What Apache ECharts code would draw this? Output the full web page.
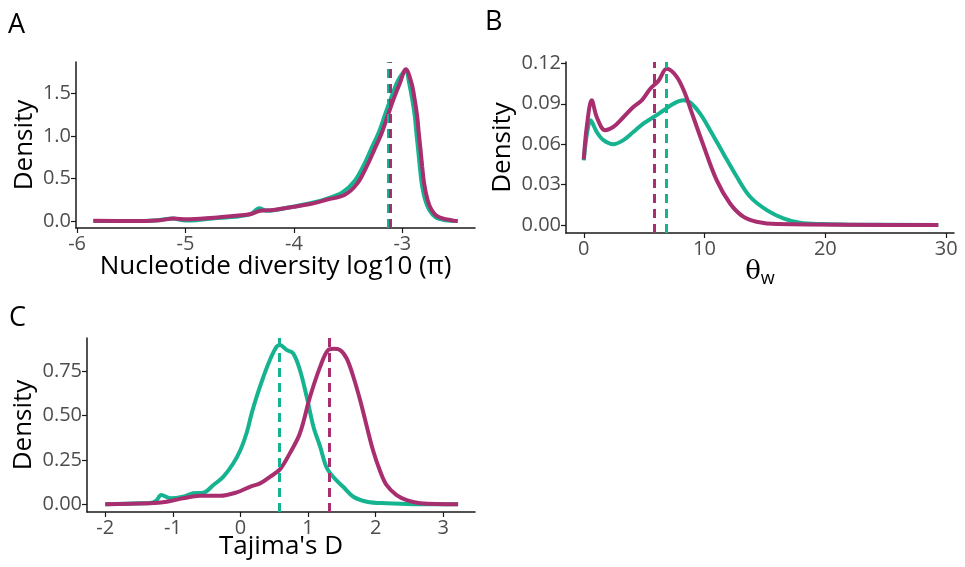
<!DOCTYPE html>
<html>
<head>
<meta charset="utf-8">
<script src="https://cdn.jsdelivr.net/npm/echarts@6/dist/echarts.min.js"></script>
<style>
  html, body { margin: 0; padding: 0; background: #fff; }
  #chart { width: 965px; height: 567px; }
</style>
</head>
<body>
<div id="chart"></div>
<script>
  // panel A: nucleotide diversity log10(pi)
  const piGreenX = [-5.85,-5.5,-5.25,-5.12,-5.0,-4.9,-4.75,-4.55,-4.4,-4.32,-4.25,-4.05,-3.85,-3.7,-3.55,-3.44,-3.355,-3.285,-3.215,-3.16,-3.107,-3.045,-2.99,-2.965,-2.937,-2.907,-2.885,-2.87,-2.854,-2.839,-2.821,-2.79,-2.752,-2.69,-2.6,-2.49];
  const piGreenY = [0,0,0.01,0.03,0.005,0.01,0.03,0.05,0.08,0.15,0.12,0.16,0.21,0.26,0.34,0.47,0.66,0.855,1.05,1.25,1.44,1.64,1.75,1.765,1.62,1.42,1.23,1.03,0.835,0.64,0.44,0.25,0.13,0.04,0.01,0];
  const piPinkX = [-5.85,-5.48,-5.235,-5.11,-4.99,-4.74,-4.56,-4.41,-4.31,-4.19,-4.04,-3.85,-3.7,-3.53,-3.417,-3.33,-3.26,-3.192,-3.137,-3.085,-3.023,-2.968,-2.915,-2.885,-2.863,-2.848,-2.832,-2.817,-2.799,-2.768,-2.73,-2.67,-2.53,-2.49];
  const piPinkY = [0.004,0,0.01,0.03,0.02,0.04,0.06,0.08,0.12,0.13,0.16,0.2,0.25,0.31,0.44,0.64,0.835,1.03,1.23,1.42,1.62,1.785,1.62,1.42,1.23,1.03,0.835,0.64,0.44,0.25,0.13,0.05,0.005,0];
  const piMeans = [-3.125, -3.11]; // green, pink
  const piXTicks = [-6, -5, -4, -3];
  const piYTicks = [0, 0.5, 1, 1.5];

  // panel B: theta_w
  const thGreenX = [0,0.58,1.08,1.63,2.45,3.28,4.1,4.93,5.76,6.59,7.42,8.25,8.8,9.63,10.46,11.56,12.67,13.77,15.15,16.52,17.9,19.8,22.0,29.35];
  const thGreenY = [0.048,0.0778,0.069,0.063,0.060,0.063,0.069,0.0753,0.080,0.085,0.090,0.0926,0.091,0.0827,0.0704,0.053,0.0358,0.021,0.0111,0.005,0.0017,0.0007,0.0003,0];
  const thPinkX = [0,0.25,0.66,1.08,1.76,2.45,3.28,4.1,4.8,5.49,6.18,6.87,7.7,8.39,8.8,9.85,11.0,12.11,13.2,14.3,15.98,29.35];
  const thPinkY = [0.0487,0.073,0.0926,0.080,0.0704,0.0728,0.080,0.0876,0.0926,0.101,0.107,0.116,0.110,0.0975,0.087,0.0605,0.0333,0.016,0.0062,0.0025,0.0007,0];
  const thMeans = [6.87, 5.82];
  const thXTicks = [0, 10, 20, 30];
  const thYTicks = [0, 0.03, 0.06, 0.09, 0.12];

  // panel C: Tajima's D
  const tdGreenX = [-2,-1.49,-1.34,-1.25,-1.17,-1.04,-0.85,-0.7,-0.55,-0.4,-0.255,-0.107,0,0.09,0.166,0.24,0.34,0.436,0.535,0.584,0.683,0.78,0.88,0.98,1.08,1.18,1.27,1.37,1.52,1.67,1.87,2.16,2.56,3.22];
  const tdGreenY = [0,0.006,0.008,0.02,0.052,0.034,0.043,0.062,0.065,0.109,0.155,0.23,0.306,0.40,0.512,0.606,0.718,0.8125,0.887,0.897,0.869,0.85,0.756,0.606,0.437,0.324,0.212,0.155,0.099,0.043,0.015,0.006,0.001,0];
  const tdPinkX = [-2,-1.34,-1.09,-0.85,-0.6,-0.3,-0.056,0.14,0.29,0.436,0.584,0.73,0.88,1.03,1.18,1.3,1.38,1.47,1.57,1.67,1.77,1.87,1.96,2.06,2.16,2.31,2.46,2.66,3.22];
  const tdPinkY = [0,0.006,0.015,0.034,0.048,0.048,0.067,0.099,0.118,0.155,0.197,0.287,0.40,0.606,0.775,0.869,0.875,0.869,0.822,0.718,0.587,0.437,0.306,0.193,0.109,0.052,0.024,0.006,0];
  const tdMeans = [0.58, 1.32];
  const tdXTicks = [-2, -1, 0, 1, 2, 3];
  const tdYTicks = [0, 0.25, 0.5, 0.75];

  const green = "#15b38f";
  const pink = "#a82e70";
  const font = "Open Sans";

  const zip = (xs, ys) => xs.map((x, i) => [x, ys[i]]);

  const xAxisBase = (grid, min, max, ticks, name, gap) => ({
    type: "value", gridIndex: grid, min: min, max: max,
    splitLine: { show: false },
    axisLine: { show: true, onZero: false, lineStyle: { color: "#1a1a1a", width: 1.5 } },
    axisTick: { show: true, length: 5, customValues: ticks, lineStyle: { color: "#1a1a1a", width: 1.2 } },
    axisLabel: { customValues: ticks, color: "#4d4d4d", fontSize: 20, fontFamily: font, margin: 6 },
    name: name, nameLocation: "middle", nameGap: gap, nameMoveOverlap: false,
    nameTextStyle: { color: "#000", fontSize: 26, fontFamily: font },
  });

  const yAxisBase = (grid, min, max, ticks, digits, gap) => ({
    type: "value", gridIndex: grid, min: min, max: max,
    splitLine: { show: false },
    axisLine: { show: true, onZero: false, lineStyle: { color: "#1a1a1a", width: 1.5 } },
    axisTick: { show: true, length: 5, customValues: ticks, lineStyle: { color: "#1a1a1a", width: 1.2 } },
    axisLabel: { customValues: ticks, color: "#4d4d4d", fontSize: 20, fontFamily: font, margin: 5,
      formatter: (v) => v.toFixed(digits) },
    name: "Density", nameLocation: "middle", nameRotate: 90, nameGap: gap, nameMoveOverlap: false,
    nameTextStyle: { color: "#000", fontSize: 26, fontFamily: font },
  });

  const curve = (idx, data, color) => ({
    type: "line", xAxisIndex: idx, yAxisIndex: idx, data: data,
    showSymbol: false, smooth: 0.35, lineStyle: { color: color, width: 4 },
  });

  const vline = (idx, x, color) => ({
    type: "line", xAxisIndex: idx, yAxisIndex: idx, data: [],
    markLine: {
      silent: true, symbol: "none", label: { show: false },
      lineStyle: { color: color, width: 3, type: [9, 6] },
      data: [{ xAxis: x }],
    },
  });

  const letter = { fontFamily: "Open Sans", fontSize: 27, fontWeight: "normal", color: "#000" };

  const myChart = echarts.init(document.getElementById("chart"));
  const option = {
    animation: false,
    backgroundColor: "#fff",
    title: [
      { text: "A", left: 3, top: 7, textStyle: letter },
      { text: "B", left: 480, top: 4, textStyle: letter },
      { text: "C", left: 4, top: 300, textStyle: letter },
    ],
    grid: [
      { left: 76, top: 62, width: 399, height: 166, outerBoundsMode: "none" },
      { left: 566, top: 62, width: 388, height: 171, outerBoundsMode: "none" },
      { left: 87, top: 338, width: 388, height: 174, outerBoundsMode: "none" },
    ],
    xAxis: [
      xAxisBase(0, -6.01, -2.33, piXTicks, "Nucleotide diversity log10 (π)", 26),
      Object.assign(xAxisBase(1, -1.47, 30.65, thXTicks, "{t|θ}{s|w}", 24), {
        nameTextStyle: { color: "#000", rich: {
          t: { fontSize: 26, fontFamily: "DejaVu Serif", color: "#000" },
          s: { fontSize: 18, fontFamily: font, color: "#000", padding: [13, 0, 0, 0] },
        } },
      }),
      xAxisBase(2, -2.27, 3.47, tdXTicks, "Tajima's D", 22),
    ],
    yAxis: [
      yAxisBase(0, -0.082, 1.871, piYTicks, 1, 38),
      yAxisBase(1, -0.0059, 0.121, thYTicks, 2, 50),
      yAxisBase(2, -0.043, 0.936, tdYTicks, 2, 50),
    ],
    series: [
      curve(0, zip(piGreenX, piGreenY), green),
      curve(0, zip(piPinkX, piPinkY), pink),
      vline(0, piMeans[0], green),
      vline(0, piMeans[1], pink),
      curve(1, zip(thGreenX, thGreenY), green),
      curve(1, zip(thPinkX, thPinkY), pink),
      vline(1, thMeans[0], green),
      vline(1, thMeans[1], pink),
      curve(2, zip(tdGreenX, tdGreenY), green),
      curve(2, zip(tdPinkX, tdPinkY), pink),
      vline(2, tdMeans[0], green),
      vline(2, tdMeans[1], pink),
    ],
  };
  myChart.setOption(option);
</script>
</body>
</html>
